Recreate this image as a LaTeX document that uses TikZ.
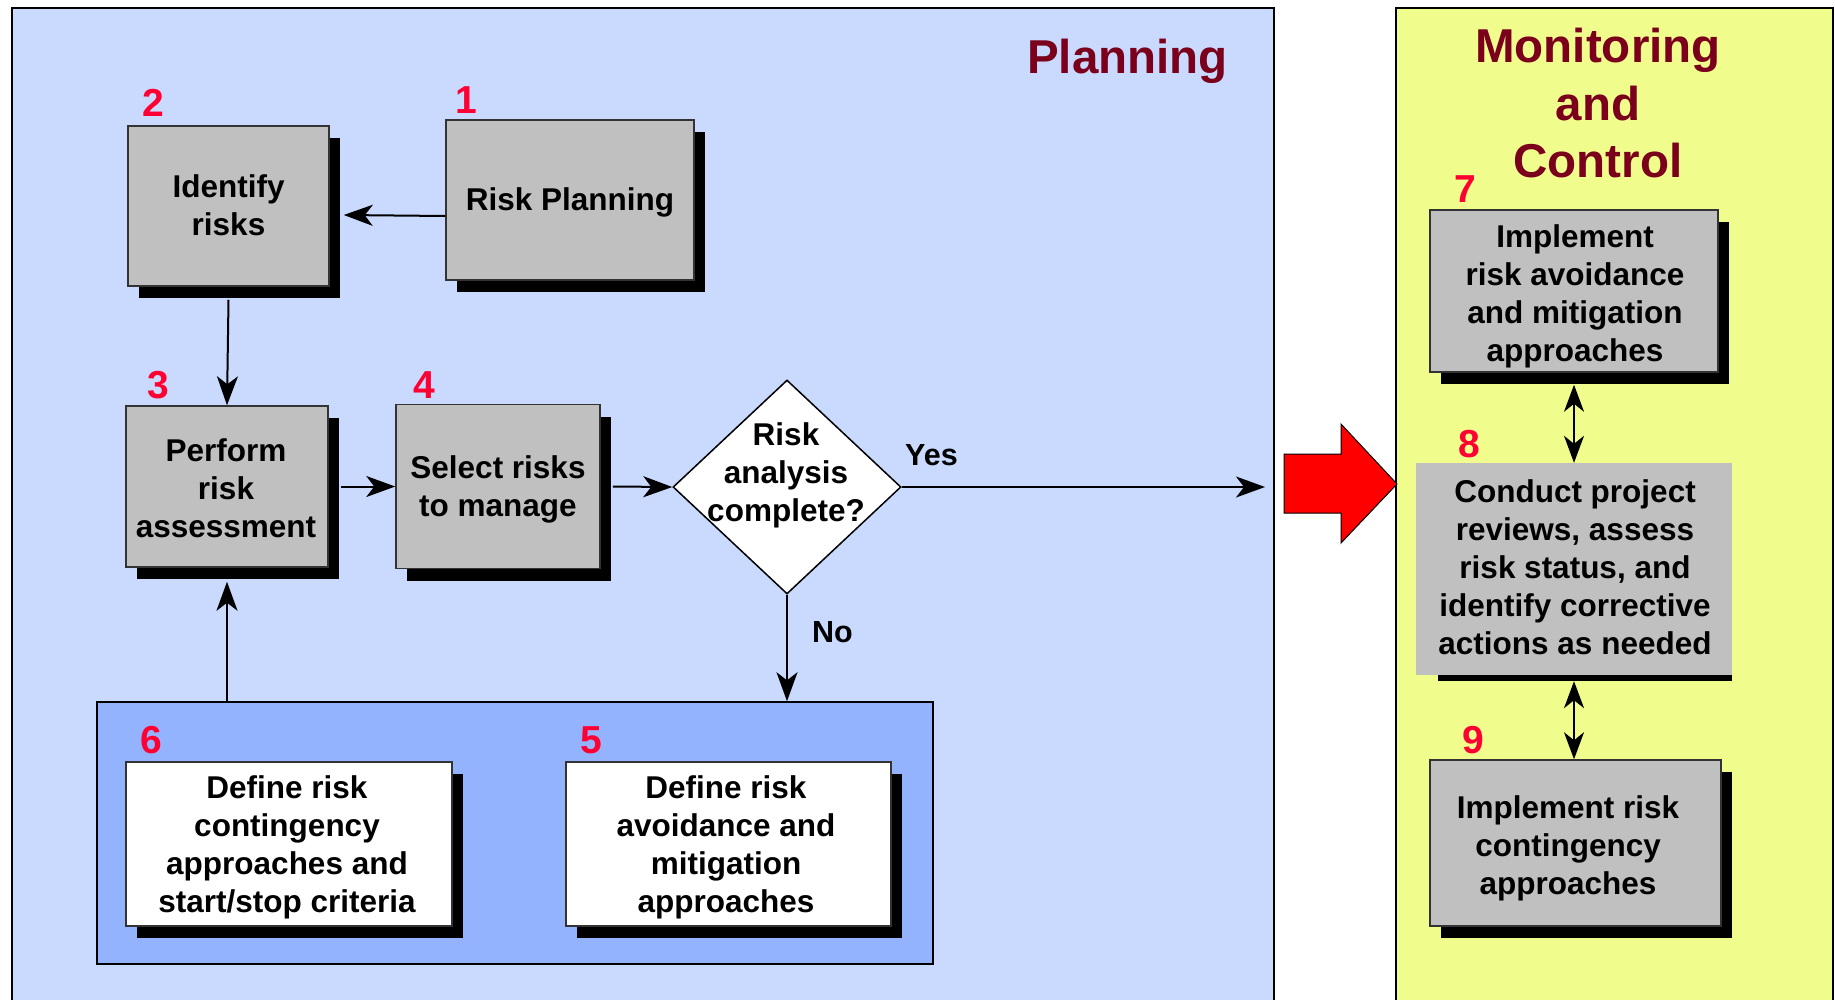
\documentclass[tikz,border=0pt]{standalone}
\usepackage{fontspec}
\setmainfont{Liberation Sans}
\usetikzlibrary{shapes.geometric,shadows,arrows.meta}
\definecolor{planbg}{HTML}{C9DAFE}
\definecolor{groupblue}{HTML}{94B3FF}
\definecolor{monbg}{HTML}{F0FC8C}
\definecolor{boxgrey}{HTML}{C0C0C0}
\definecolor{numred}{HTML}{FF0033}
\definecolor{ttlred}{HTML}{7A001C}
\begin{document}
\begin{tikzpicture}[x=1pt,y=-1pt,
  panel/.style={draw=black, line width=2pt},
  box/.style={draw=black!80, line width=1.5pt, fill=boxgrey, inner sep=0pt,
    general shadow={fill=black, shadow xshift=11pt, shadow yshift=-12pt}},
  wbox/.style={box, fill=white},
  txt/.style={font=\fontsize{31.5}{38}\selectfont\bfseries, align=center, inner sep=0pt, anchor=north},
  lbl/.style={font=\fontsize{30.5}{36}\selectfont\bfseries, inner sep=0pt, anchor=base west},
  num/.style={text=numred, font=\fontsize{39}{39}\selectfont\bfseries, inner sep=0pt, anchor=base},
  ttl/.style={text=ttlred, font=\fontsize{47.5}{57.5}\selectfont\bfseries, inner sep=0pt, align=center},
  arr/.style={line width=2pt, -{Stealth[length=29pt,width=21pt,inset=8pt]}},
  darr/.style={line width=2pt, {Stealth[length=27pt,width=20pt,inset=8pt]}-{Stealth[length=27pt,width=20pt,inset=8pt]}}
]
\useasboundingbox (0,0) rectangle (1835,999);
\fill[white] (0,0) rectangle (1835,999);
% panels
\draw[panel, fill=planbg] (12,8) rectangle (1274,1005);
\draw[panel, fill=monbg] (1396,8) rectangle (1833,1005);
% titles
\node[ttl, anchor=base] (tplan) at (1127.5,73) {Planning};
\node[ttl, anchor=north] (tmon) at (1598,28) {Monitoring\\and\\Control};
% red block arrow
\draw[fill=red, line width=1pt] (1284,454) -- (1341,454) -- (1341,424) -- (1397,484)
  -- (1341,543) -- (1341,513) -- (1284,513) -- cycle;
% group box
\node[draw=black, line width=1.5pt, fill=groupblue, inner sep=0pt,
  minimum width=836pt, minimum height=262pt] (G) at (515,833) {};
% boxes
\node[box, minimum width=248pt, minimum height=160pt] (B1) at (570,200) {};
\node[box, minimum width=201pt, minimum height=160pt] (B2) at (228.5,206) {};
\node[box, minimum width=202pt, minimum height=161pt] (B3) at (227,486.5) {};
\node[box, minimum width=204pt, minimum height=164pt] (B4) at (498,486.5) {};
\node[draw=black, line width=1.5pt, fill=white, diamond, inner sep=0pt,
  minimum width=228pt, minimum height=214pt] (D) at (787,487) {};
\node[wbox, minimum width=326pt, minimum height=164pt] (B6) at (289,844) {};
\node[wbox, minimum width=325pt, minimum height=164pt] (B5) at (728.5,844) {};
\node[box, minimum width=288pt, minimum height=162pt] (B7) at (1574,291) {};
\node[fill=boxgrey, inner sep=0pt, minimum width=316pt, minimum height=212pt] (B8) at (1574,569) {};
\fill[black] ([xshift=22pt]B8.south west) rectangle ([yshift=-6pt]B8.south east);
\node[box, minimum width=291pt, minimum height=166pt] (B9) at (1575.5,843) {};
% texts
\node[txt] (T1) at (570,187.3) {Risk Planning};
\node[txt] (T2) at (228.5,174.3) {Identify\\risks};
\node[txt] (T3) at (226,438.3) {Perform\\risk\\assessment};
\node[txt] (T4) at (498,455.3) {Select risks\\to manage};
\node[txt] (TD) at (786,422.3) {Risk\\analysis\\complete?};
\node[txt] (T6) at (287,775.3) {Define risk\\contingency\\approaches and\\start/stop criteria};
\node[txt] (T5) at (726,775.3) {Define risk\\avoidance and\\mitigation\\approaches};
\node[txt] (T7) at (1575,224.3) {Implement\\risk avoidance\\and mitigation\\approaches};
\node[txt] (T8) at (1575,479.3) {Conduct project\\reviews, assess\\risk status, and\\identify corrective\\actions as needed};
\node[txt] (T9) at (1568,795.3) {Implement risk\\contingency\\approaches};
% numbers
\node[num] (n1) at (466,113) {1};
\node[num] (n2) at (153,116) {2};
\node[num] (n3) at (158,398) {3};
\node[num] (n4) at (424,398) {4};
\node[num] (n5) at (591,753) {5};
\node[num] (n6) at (151,753) {6};
\node[num] (n7) at (1465,202) {7};
\node[num] (n8) at (1469,457) {8};
\node[num] (n9) at (1473,753) {9};
% labels
\node[lbl] (yes) at (905,465) {Yes};
\node[lbl] (no) at (812,642) {No};
% connectors
\coordinate (yesend) at (1265,487);
\draw[arr] ([yshift=-16pt]B1.west) -- ([xshift=14pt,yshift=-9pt]B2.east);
\draw[arr] ([yshift=-13pt]B2.south) -- (B3.north);
\draw[arr] ([xshift=12pt]B3.east) -- (B3.east -| B4.west);
\draw[arr] ([xshift=12pt]B4.east) -- (D.west);
\draw[arr] (D.east) -- (yesend);
\draw[arr] (D.south) -- (D.south |- G.north);
\draw[arr] (G.north -| B3.south) -- ([yshift=-14pt]B3.south);
\draw[darr] ([yshift=-12pt]B7.south) -- (B8.north);
\draw[darr] ([yshift=-6pt]B8.south) -- (B8.south |- B9.north);
\end{tikzpicture}
\end{document}
